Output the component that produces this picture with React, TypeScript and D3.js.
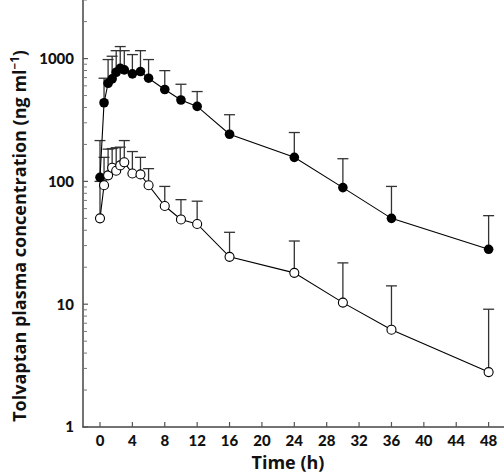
import React from "react";
import * as d3 from "d3";

const times = [0, 0.5, 1, 1.5, 2, 2.5, 3, 4, 5, 6, 8, 10, 12, 16, 24, 30, 36, 48];
const filledMean = [108, 437, 630, 684, 774, 834, 809, 751, 784, 692, 560, 460, 408, 242, 157, 89, 50, 28];
const filledUpper = [215, 692, 982, 1045, 1160, 1253, 1160, 1078, 1160, 982, 798, 618, 539, 349, 250, 153, 91, 52.6];
const openMean = [50, 93, 112, 129, 122, 135, 143, 116, 114, 93, 63, 49, 45, 24.3, 18, 10.3, 6.2, 2.8];
const openUpper = [100, 157, 183, 185, 188, 190, 215, 175, 157, 127, 91, 71, 69, 38.5, 32.7, 21.7, 14.1, 9.1];

const xTicks = [0, 4, 8, 12, 16, 20, 24, 28, 32, 36, 40, 44, 48];
const yTicks = [1, 10, 100, 1000];
const yTickLabels = ["1", "10", "100", "1000"];

const W = 504;
const H = 473;
const FONT = "'Lato', 'DejaVu Sans', sans-serif";
const TFONT = "'Open Sans', 'DejaVu Sans', sans-serif";

export default function App() {
  const x = d3.scaleLinear().domain([-2.1, 49.9]).range([83, 504]);
  const y = d3.scaleLog().domain([1, 3000]).range([427, 0]);

  const minor: number[] = [];
  [1, 10, 100, 1000].forEach((d) => {
    for (let m = 2; m <= 9; m++) {
      const v = d * m;
      if (v <= 3000) minor.push(v);
    }
  });

  const line = d3
    .line<number>()
    .x((_, i) => x(times[i]))
    .y((d) => y(d));

  const capW = 5.5;
  const errColor = "#333";

  const bars = (means: number[], ups: number[], key: string) =>
    means.map((m, i) => (
      <g key={key + i}>
        <line x1={x(times[i])} x2={x(times[i])} y1={y(m)} y2={y(ups[i])} stroke={errColor} strokeWidth={1.3} />
        <line x1={x(times[i]) - capW} x2={x(times[i]) + capW} y1={y(ups[i])} y2={y(ups[i])} stroke={errColor} strokeWidth={1.3} />
      </g>
    ));

  return (
    <svg width={W} height={H} style={{ position: "absolute", left: 0, top: 0, background: "#fff" }}>
      {/* axes */}
      <line x1={83} x2={83} y1={0} y2={427.5} stroke="#444" strokeWidth={1.5} />
      <line x1={82.5} x2={504} y1={427} y2={427} stroke="#444" strokeWidth={1.5} />
      {xTicks.map((t) => (
        <g key={"xt" + t}>
          <line x1={x(t)} x2={x(t)} y1={427} y2={422} stroke="#555" strokeWidth={1.2} />
          <text x={x(t)} y={446} textAnchor="middle" fontFamily={FONT} fontWeight="900" fontSize={15} fill="#111">
            {t}
          </text>
        </g>
      ))}
      {yTicks.map((t, i) => (
        <g key={"yt" + t}>
          <line x1={83} x2={88} y1={y(t)} y2={y(t)} stroke="#555" strokeWidth={1.2} />
          <text x={74} y={y(t)} dy="0.36em" textAnchor="end" fontFamily={FONT} fontWeight="900" fontSize={15} fill="#111">
            {yTickLabels[i]}
          </text>
        </g>
      ))}
      {minor.map((t) => (
        <line key={"ym" + t} x1={83} x2={87} y1={y(t)} y2={y(t)} stroke="#777" strokeWidth={1} />
      ))}
      <text x={288} y={469} textAnchor="middle" fontFamily={TFONT} fontWeight="bold" fontSize={18} fill="#111">
        Time (h)
      </text>
      <text
        transform={`translate(26,236) rotate(-90)`}
        textAnchor="middle"
        fontFamily={TFONT}
        fontWeight="bold"
        fontSize={18}
        fill="#111"
      >
        Tolvaptan plasma concentration (ng ml
        <tspan dy={-7} fontSize={11.5}>−1</tspan>
        <tspan dy={7}>)</tspan>
      </text>

      {/* error bars */}
      {bars(filledMean, filledUpper, "fb")}
      {bars(openMean, openUpper, "ob")}

      {/* filled series */}
      <path d={line(filledMean) || ""} fill="none" stroke="#000" strokeWidth={1.1} />
      {filledMean.map((m, i) => (
        <circle key={"fc" + i} cx={x(times[i])} cy={y(m)} r={4.8} fill="#000" />
      ))}

      {/* open series */}
      <path d={line(openMean) || ""} fill="none" stroke="#000" strokeWidth={1.1} />
      {openMean.map((m, i) => (
        <circle key={"oc" + i} cx={x(times[i])} cy={y(m)} r={4.5} fill="#fff" stroke="#000" strokeWidth={1.1} />
      ))}
    </svg>
  );
}
